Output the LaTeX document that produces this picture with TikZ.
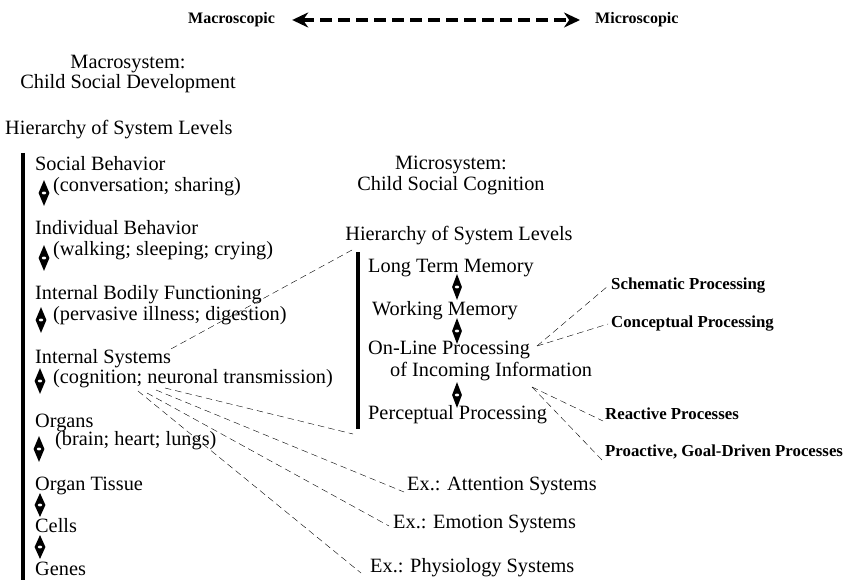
\documentclass[tikz,border=0pt]{standalone}
\usepackage{fontspec}
\setmainfont{Liberation Serif}
\usetikzlibrary{arrows.meta,shapes.geometric}

\begin{document}
\begin{tikzpicture}[x=1pt,y=-1pt,
  lvl/.style={anchor=west,inner sep=0pt,font=\fontsize{20.3}{23}\selectfont,text height=14pt,text depth=4pt},
  head/.style={lvl,anchor=center},
  note/.style={anchor=west,inner sep=0pt,font=\fontsize{16.8}{19}\selectfont\bfseries,text height=11pt,text depth=3.5pt},
  pole/.style={note,font=\fontsize{16}{19}\selectfont\bfseries},
  updown/.style={diamond,fill=black,inner sep=0pt,minimum width=11pt,minimum height=26pt,
    path picture={\fill[white] (path picture bounding box.center) ellipse (2.2pt and 1.4pt);}},
  bar/.style={line width=3.5pt},
  link/.style={thin,dash pattern=on 6.5pt off 4pt}]
\useasboundingbox (0,0) rectangle (845,580);

\node[pole] (macro) at (188,20) {Macroscopic};
\node[pole] (micro) at (595,20) {Microscopic};
\draw[line width=3.5pt,dash pattern=on 12pt off 6pt,{Stealth[length=16pt,width=15pt]}-{Stealth[length=16pt,width=15pt]},
  shorten <=17pt,shorten >=15pt] (macro.east) -- (micro.west);

\node[head] (macsys) at (128,64) {Macrosystem:};
\node[head] (macchild) at (128,84) {Child Social Development};
\node[lvl] (lhier) at (5,130) {Hierarchy of System Levels};
\draw[bar] (23,153) -- (23,580);

\node[lvl] (social) at (35,166) {Social Behavior};
\node[lvl] (conv) at (53,186) {(conversation; sharing)};
\node[updown] (d1) at (44,193) {};
\node[lvl] (indiv) at (35,229) {Individual Behavior};
\node[lvl] (walk) at (53,250) {(walking; sleeping; crying)};
\node[updown] (d2) at (44,258) {};
\node[lvl] (bodily) at (35,294) {Internal Bodily Functioning};
\node[lvl] (perv) at (53,315) {(pervasive illness; digestion)};
\node[updown] (d3) at (41,320) {};
\node[lvl] (isys) at (35,358) {Internal Systems};
\node[lvl] (cog) at (53,378) {(cognition; neuronal transmission)};
\node[updown] (d4) at (40,381) {};
\node[lvl] (organs) at (35,422) {Organs};
\node[lvl] (brain) at (55,440) {(brain; heart; lungs)};
\node[updown] (d5) at (39,449) {};
\node[lvl] (tissue) at (35,485) {Organ Tissue};
\node[updown,minimum height=24pt] (d6) at (40,505) {};
\node[lvl] (cells) at (35,527) {Cells};
\node[updown,minimum height=24pt] (d7) at (40,547) {};
\node[lvl] (genes) at (35,570) {Genes};

\node[head] (micsys) at (451,165) {Microsystem:};
\node[head] (micchild) at (451,185) {Child Social Cognition};
\node[head] (rhier) at (459,235) {Hierarchy of System Levels};
\coordinate (rtop) at (358,252);
\coordinate (rbot) at (358,429);
\draw[bar] (rtop) -- (rbot);

\node[lvl] (ltm) at (368,267) {Long Term Memory};
\node[updown,minimum width=10pt] (m1) at (457,287) {};
\node[lvl] (wm) at (372,310) {Working Memory};
\node[updown,minimum width=10pt] (m2) at (457,331) {};
\node[lvl] (onl) at (368,349) {On-Line Processing};
\node[lvl] (inc) at (390,371) {of Incoming Information};
\node[updown,minimum width=10pt] (m3) at (457,395) {};
\node[lvl] (perc) at (368,414) {Perceptual Processing};

\node[note] (schem) at (611,286) {Schematic Processing};
\node[note] (conc) at (611,324) {Conceptual Processing};
\node[note] (react) at (605,416) {Reactive Processes};
\node[note] (proac) at (605,453) {Proactive, Goal-Driven Processes};

\node[lvl] (attn) at (407,485) {Ex.: Attention Systems};
\node[lvl] (emot) at (393,523) {Ex.: Emotion Systems};
\node[lvl] (phys) at (370,567) {Ex.: Physiology Systems};

\coordinate (onfan) at (537,346);
\coordinate (infan) at (532,387);
\coordinate (c1) at (138,391);
\coordinate (c2) at (147,393);
\coordinate (c3) at (156,390);
\coordinate (c4) at (165,388);

\draw[link] (isys.north east) -- ([xshift=-6pt,yshift=2pt]rtop);
\draw[link] (c4) -- ([xshift=-5pt,yshift=-5pt]rbot);
\draw[link] (c3) -- ([xshift=-3pt,yshift=-7pt]attn.west);
\draw[link] (c2) -- ([xshift=-4pt,yshift=-3pt]emot.west);
\draw[link] (c1) -- ([xshift=-9pt,yshift=-6pt]phys.west);
\draw[link] (onfan) -- ([xshift=-3pt]schem.west);
\draw[link] (onfan) -- ([xshift=-3pt]conc.west);
\draw[link] (infan) -- ([xshift=-2pt,yshift=-5pt]react.west);
\draw[link] (infan) -- ([xshift=-3pt,yshift=-7pt]proac.west);
\end{tikzpicture}
\end{document}
